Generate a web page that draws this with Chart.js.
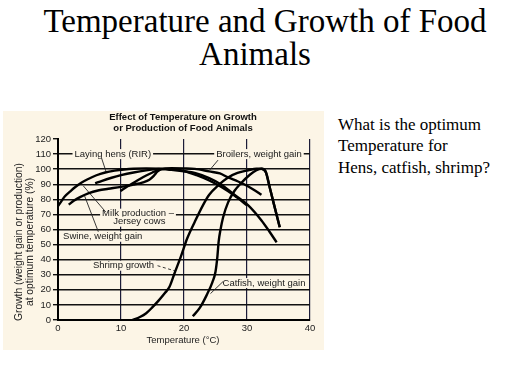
<!DOCTYPE html>
<html><head><meta charset="utf-8">
<script src="https://cdn.jsdelivr.net/npm/chart.js@4.4.1/dist/chart.umd.min.js"></script>
<style>
html,body{margin:0;padding:0;background:#fff;width:512px;height:384px;overflow:hidden;position:relative;}
.t{position:absolute;font-family:"Liberation Serif","Times New Roman",serif;color:#000;white-space:nowrap;}
#t1{left:0;width:530px;text-align:center;top:5px;font-size:33px;line-height:33px;}
#t2{left:0;width:510px;text-align:center;top:38px;font-size:33px;line-height:33px;}
#q{left:338px;top:114px;font-size:17px;line-height:21.3px;}
#panel{position:absolute;left:3px;top:111px;width:321px;height:239px;background:#fcf5e6;}
#c{position:absolute;left:0;top:0;}
</style></head><body>
<div class="t" id="t1">Temperature and Growth of Food</div>
<div class="t" id="t2">Animals</div>
<div class="t" id="q">What is the optimum<br>Temperature for<br>Hens, catfish, shrimp?</div>
<div id="panel"><canvas id="c" width="321" height="239"></canvas></div>
<script>
// ---- data (temperature °C, growth %) ----
const hensT   = [0,0.5,1.1,2,2.7,3.7,4.8,6,7.5,9,10.5,12,14,16,18,20,21.7,24,26,28,30.2,32.3,33.5,34.7];
const hensV   = [75.5,78.5,82,85.5,88,91,93.5,95.8,97.8,99,99.8,100.3,100.5,100.3,99.5,98.5,97.5,94,89.5,83,76,66,59,51.5];
const broilT  = [5.9,7,8.5,10,12,14,16,18,20,21.7,24,25.7,27,28.5,30,31.2,32.3];
const broilV  = [90.6,92.3,94.3,96,97.8,99.2,100.2,100.6,100.5,100.2,98.5,97.2,94.5,92,89,86,83];
const swineT  = [1.7,2.5,3.5,4.8,6.5,8,10,12,13.5,14.5,15.2,15.8,16.3];
const swineV  = [76.5,79,81.5,84,86,87,88.3,89.8,91.3,93,95.5,98.5,100];
const milkT   = [9.9,11,12,13,14,15,16,17,18,20,22,24,26,28,30];
const milkV   = [85.5,88.5,91,93.5,95.8,97.8,99.5,100.2,100,98.8,96,92.5,88,82.5,76];
const shrimpT = [11.8,13,14,15,16,17,17.7,18.5,19.5,20.5,21.7,23,24,25.5,27,28.5,30.2,31.5,32.3,33,33.6,34.2,35.2];
const shrimpV = [0,2,4.5,8.5,13,18,22,31,42,54,65,76,83,89.5,94.5,97.5,99.3,100.3,100.3,98,88,78,61.5];
const catT    = [21.4,22.5,23.6,24.5,25,25.3,25.5,25.8,26.2,27,28,29,30.5,31.5,32.3,33,33.6,34.2,35.2];
const catV    = [2.5,8,16.5,25,32,42,52,60,68,78,85.5,90.5,96.5,99.3,100.3,98,88,78,61.5];
const xTicks = [0,10,20,30,40];
const yTicks = [0,10,20,30,40,50,60,70,80,90,100,110,120];
// annotation labels: text, anchor temp, anchor %
const labelText = ["Laying hens (RIR)","Broilers, weight gain","Milk production –","Jersey cows","Swine, weight gain","Shrimp growth","Catfish, weight gain"];
const labelT    = [8.7,31.9,12.7,12.9,7.1,10.4,32.7];
const labelV    = [110,110,70.5,65.2,55.2,36,24.5];
// pointer lines: [t1,v1,t2,v2,dashed]
const pointers = [[6.9,107.5,7.7,97.5,0],[25.4,106,24.1,99.5,0],[7.6,71.5,4.0,89,0],[6.4,58.5,4.2,82.5,0],[15.8,36,18.6,32.5,1],[26.2,25.5,24.2,17.5,0]];

const mk = (t,v)=>t.map((x,i)=>({x:x,y:v[i]}));
const ds = (t,v)=>({data:mk(t,v),borderColor:'#000',borderWidth:2.4,pointRadius:0,fill:false,cubicInterpolationMode:'monotone'});
const F = '"Liberation Sans", Arial, sans-serif';

const annot = {
  id:'annot',
  beforeDatasetsDraw(chart){
    const c=chart.ctx, xs=chart.scales.x, ys=chart.scales.y;
    c.save();
    c.font='9.5px '+F; c.textAlign='center'; c.textBaseline='middle';
    labelText.forEach((s,i)=>{
      const x=xs.getPixelForValue(labelT[i]), y=ys.getPixelForValue(labelV[i]);
      const w=c.measureText(s).width;
      c.fillStyle='#fcf5e6'; c.fillRect(x-w/2-2,y-5,w+4,10);
      c.fillStyle='#1a1a1a'; c.fillText(s,x,y);
    });
    c.strokeStyle='#222'; c.lineWidth=0.9;
    pointers.forEach(p=>{
      c.setLineDash(p[4]?[3,2.5]:[]);
      c.beginPath();
      c.moveTo(xs.getPixelForValue(p[0]),ys.getPixelForValue(p[1]));
      c.lineTo(xs.getPixelForValue(p[2]),ys.getPixelForValue(p[3]));
      c.stroke();
    });
    c.setLineDash([]);
    c.restore();
  },
  afterDraw(chart){
    const c=chart.ctx, a=chart.chartArea;
    c.save();
    c.fillStyle='#111'; c.textAlign='center'; c.textBaseline='middle';
    c.font='bold 9.5px '+F;
    const cx=(a.left+a.right)/2-1;
    c.fillText('Effect of Temperature on Growth',cx,6);
    c.fillText('or Production of Food Animals',cx,17);
    c.font='9.5px '+F; c.fillStyle='#222';
    c.fillText('Temperature (°C)',cx,229);
    c.font='10.3px '+F;
    c.translate(16,131); c.rotate(-Math.PI/2);
    c.fillText('Growth (weight gain or production)',0,0);
    c.fillText('at optimum temperature (%)',0,11.5);
    c.restore();
  }
};

new Chart(document.getElementById('c'),{
  type:'line',
  data:{datasets:[ds(hensT,hensV),ds(broilT,broilV),ds(swineT,swineV),ds(milkT,milkV),ds(shrimpT,shrimpV),ds(catT,catV)]},
  options:{
    responsive:false,animation:false,events:[],
    layout:{padding:{top:28,right:14,left:0,bottom:0}},
    plugins:{legend:{display:false},tooltip:{enabled:false},title:{display:false}},
    scales:{
      x:{type:'linear',min:0,max:40,
        afterBuildTicks:s=>{s.ticks=xTicks.map(v=>({value:v}));},
        afterFit:s=>{s.height=30;},
        ticks:{font:{size:9.5,family:F},color:'#222',padding:3,maxRotation:0},
        grid:{color:'#1c1c38',lineWidth:1.2,drawTicks:false},
        border:{color:'#000',width:2}},
      y:{min:0,max:120,
        afterBuildTicks:s=>{s.ticks=yTicks.map(v=>({value:v}));},
        afterFit:s=>{s.width=55;},
        ticks:{font:{size:9.5,family:F},color:'#222',padding:2},
        grid:{color:c=>c.tick&&c.tick.value===120?'rgba(0,0,0,0)':'#111',lineWidth:1.4,tickLength:5,tickColor:'#111'},
        border:{color:'#000',width:2}}
    }
  },
  plugins:[annot]
});
</script>
</body></html>
